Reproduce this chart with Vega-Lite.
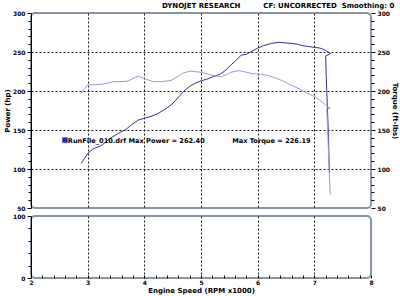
{
  "$schema": "https://vega.github.io/schema/vega-lite/v6.json",
  "background": "white",
  "padding": {"left": 2, "top": 0, "right": 0, "bottom": 1},
  "spacing": 0,
  "config": {
    "font": "DejaVu Sans",
    "view": {"stroke": "#8995a3", "strokeWidth": 2, "cornerRadius": 4},
    "axis": {
      "labelFont": "DejaVu Sans",
      "labelFontWeight": "bold",
      "labelFontSize": 6,
      "labelColor": "#000000",
      "titleFont": "DejaVu Sans",
      "titleFontWeight": "bold",
      "titleFontSize": 7,
      "titleColor": "#000000",
      "domainColor": "#000000",
      "tickColor": "#000000",
      "labelOverlap": false,
      "labelFlush": false
    }
  },
  "datasets": {
    "power": [
      {"rpm": 2.88, "hp": 107}, {"rpm": 2.95, "hp": 114}, {"rpm": 3.0, "hp": 120}, {"rpm": 3.1, "hp": 126},
      {"rpm": 3.24, "hp": 130}, {"rpm": 3.41, "hp": 140}, {"rpm": 3.55, "hp": 146}, {"rpm": 3.68, "hp": 151},
      {"rpm": 3.78, "hp": 157}, {"rpm": 3.9, "hp": 163}, {"rpm": 4.0, "hp": 165}, {"rpm": 4.1, "hp": 167},
      {"rpm": 4.24, "hp": 171}, {"rpm": 4.35, "hp": 176}, {"rpm": 4.47, "hp": 182}, {"rpm": 4.59, "hp": 191},
      {"rpm": 4.7, "hp": 200}, {"rpm": 4.8, "hp": 206}, {"rpm": 4.9, "hp": 210}, {"rpm": 5.0, "hp": 213},
      {"rpm": 5.1, "hp": 215}, {"rpm": 5.2, "hp": 218}, {"rpm": 5.35, "hp": 222}, {"rpm": 5.44, "hp": 227},
      {"rpm": 5.52, "hp": 233}, {"rpm": 5.6, "hp": 238}, {"rpm": 5.71, "hp": 246}, {"rpm": 5.8, "hp": 247},
      {"rpm": 5.9, "hp": 251}, {"rpm": 6.0, "hp": 255}, {"rpm": 6.1, "hp": 258}, {"rpm": 6.24, "hp": 261},
      {"rpm": 6.36, "hp": 262.4}, {"rpm": 6.45, "hp": 262}, {"rpm": 6.59, "hp": 261}, {"rpm": 6.7, "hp": 260},
      {"rpm": 6.8, "hp": 258}, {"rpm": 6.9, "hp": 257}, {"rpm": 7.0, "hp": 256}, {"rpm": 7.1, "hp": 255},
      {"rpm": 7.2, "hp": 252}, {"rpm": 7.29, "hp": 248}, {"rpm": 7.2, "hp": 245}, {"rpm": 7.21, "hp": 220},
      {"rpm": 7.23, "hp": 180}, {"rpm": 7.25, "hp": 140}, {"rpm": 7.26, "hp": 110}, {"rpm": 7.27, "hp": 95}
    ],
    "torque": [
      {"rpm": 2.88, "tq": 197}, {"rpm": 2.92, "tq": 201}, {"rpm": 2.97, "tq": 205}, {"rpm": 3.0, "tq": 208},
      {"rpm": 3.1, "tq": 208}, {"rpm": 3.24, "tq": 208.5}, {"rpm": 3.35, "tq": 210}, {"rpm": 3.45, "tq": 212},
      {"rpm": 3.55, "tq": 212}, {"rpm": 3.7, "tq": 212.5}, {"rpm": 3.8, "tq": 216}, {"rpm": 3.89, "tq": 219},
      {"rpm": 4.0, "tq": 216}, {"rpm": 4.15, "tq": 212}, {"rpm": 4.3, "tq": 212}, {"rpm": 4.47, "tq": 213.5},
      {"rpm": 4.58, "tq": 218}, {"rpm": 4.68, "tq": 223}, {"rpm": 4.82, "tq": 225.5}, {"rpm": 5.0, "tq": 224},
      {"rpm": 5.18, "tq": 220.5}, {"rpm": 5.35, "tq": 218}, {"rpm": 5.45, "tq": 221}, {"rpm": 5.53, "tq": 224},
      {"rpm": 5.67, "tq": 226.19}, {"rpm": 5.8, "tq": 224}, {"rpm": 5.9, "tq": 222.5}, {"rpm": 6.05, "tq": 221.5},
      {"rpm": 6.18, "tq": 220}, {"rpm": 6.3, "tq": 217}, {"rpm": 6.41, "tq": 214}, {"rpm": 6.55, "tq": 209},
      {"rpm": 6.7, "tq": 204}, {"rpm": 6.85, "tq": 198}, {"rpm": 7.0, "tq": 193}, {"rpm": 7.1, "tq": 188},
      {"rpm": 7.2, "tq": 182}, {"rpm": 7.28, "tq": 178}, {"rpm": 7.22, "tq": 177}, {"rpm": 7.24, "tq": 140},
      {"rpm": 7.26, "tq": 100}, {"rpm": 7.28, "tq": 67}
    ],
    "notes": [
      {"rpm": 2.65, "val": 136.5, "text": "RunFile_010.drf Max Power = 262.40"},
      {"rpm": 5.55, "val": 136.5, "text": "Max Torque = 226.19"}
    ],
    "marker": [
      {"rpm": 2.6, "val": 137}
    ],
    "header": [
      {"rpm": 4.31, "val": 309.5, "text": "DYNOJET RESEARCH"},
      {"rpm": 6.1, "val": 309.5, "text": "CF: UNCORRECTED\u00a0 Smoothing: 0"}
    ]
  },
  "vconcat": [
    {
      "width": 340,
      "height": 195,
      "layer": [
        {
          "data": {"name": "power"},
          "mark": {"type": "line", "color": "#34328c", "strokeWidth": 1, "clip": true},
          "encoding": {
            "x": {"field": "rpm", "type": "quantitative", "scale": {"domain": [2, 8], "nice": false},
              "axis": {"values": [3, 4, 5, 6, 7], "labels": false, "ticks": false, "domain": false, "title": null,
                "grid": true, "gridColor": "#000000", "gridDash": [2, 2], "gridWidth": 1, "gridOpacity": 0.9}},
            "y": {"field": "hp", "type": "quantitative", "scale": {"domain": [50, 300], "nice": false},
              "axis": {"orient": "left", "title": "Power (hp)", "titlePadding": 2,
                "values": [50, 60, 70, 80, 90, 100, 110, 120, 130, 140, 150, 160, 170, 180, 190, 200, 210, 220, 230, 240, 250, 260, 270, 280, 290, 300],
                "labelExpr": "datum.value % 50 == 0 ? datum.label : ''",
                "labelPadding": 2,
                "tickSize": {"condition": {"test": "datum.value % 50 == 0", "value": 4}, "value": 3},
                "grid": true, "gridColor": "#000000", "gridDash": [2, 2],
                "gridOpacity": {"condition": {"test": "datum.value % 50 == 0 && datum.value > 50 && datum.value < 300", "value": 0.9}, "value": 0}}},
            "order": {"value": null}
          }
        },
        {
          "data": {"name": "torque"},
          "mark": {"type": "line", "color": "#9d9bd3", "strokeWidth": 1, "clip": true},
          "encoding": {
            "x": {"field": "rpm", "type": "quantitative"},
            "y": {"field": "tq", "type": "quantitative", "scale": {"domain": [50, 300], "nice": false},
              "axis": {"orient": "right", "title": "Torque (ft-lbs)", "titlePadding": 2, "titleAngle": 90,
                "values": [50, 60, 70, 80, 90, 100, 110, 120, 130, 140, 150, 160, 170, 180, 190, 200, 210, 220, 230, 240, 250, 260, 270, 280, 290, 300],
                "labelExpr": "datum.value % 50 == 0 ? datum.label : ''",
                "labelPadding": 2, "domain": false,
                "tickSize": {"condition": {"test": "datum.value % 50 == 0", "value": 4}, "value": 3},
                "grid": false}},
            "order": {"value": null}
          }
        },
        {
          "data": {"name": "marker"},
          "mark": {"type": "square", "color": "#2424b8", "size": 28, "opacity": 1, "stroke": "#6a6ae0", "strokeWidth": 0.5},
          "encoding": {
            "x": {"field": "rpm", "type": "quantitative"},
            "y": {"field": "val", "type": "quantitative", "scale": {"domain": [50, 300], "nice": false}, "axis": null}
          }
        },
        {
          "data": {"name": "notes"},
          "mark": {"type": "text", "align": "left", "baseline": "middle", "font": "DejaVu Sans", "fontWeight": "bold", "fontSize": 6.6, "color": "#000000"},
          "encoding": {
            "x": {"field": "rpm", "type": "quantitative"},
            "y": {"field": "val", "type": "quantitative", "scale": {"domain": [50, 300], "nice": false}, "axis": null},
            "text": {"field": "text"}
          }
        },
        {
          "data": {"name": "header"},
          "mark": {"type": "text", "align": "left", "baseline": "middle", "font": "DejaVu Sans", "fontWeight": "bold", "fontSize": 7, "color": "#000000"},
          "encoding": {
            "x": {"field": "rpm", "type": "quantitative"},
            "y": {"field": "val", "type": "quantitative", "scale": {"domain": [50, 300], "nice": false}, "axis": null},
            "text": {"field": "text"}
          }
        }
      ],
      "resolve": {"scale": {"y": "independent"}}
    },
    {
      "width": 340,
      "height": 62,
      "data": {"name": "power"},
      "mark": {"type": "point", "opacity": 0},
      "encoding": {
        "x": {"field": "rpm", "type": "quantitative", "scale": {"domain": [2, 8], "nice": false},
          "axis": {"title": "Engine Speed (RPM x1000)", "titlePadding": 1,
            "values": [2, 2.2, 2.4, 2.6, 2.8, 3, 3.2, 3.4, 3.6, 3.8, 4, 4.2, 4.4, 4.6, 4.8, 5, 5.2, 5.4, 5.6, 5.8, 6, 6.2, 6.4, 6.6, 6.8, 7, 7.2, 7.4, 7.6, 7.8, 8],
            "labelExpr": "datum.value % 1 == 0 ? format(datum.value, 'd') : ''",
            "labelPadding": 4, "domain": false,
            "tickSize": -3,
            "grid": true, "gridColor": "#000000", "gridDash": [2, 2],
            "gridOpacity": {"condition": {"test": "datum.value % 1 == 0 && datum.value > 2 && datum.value < 8", "value": 0.9}, "value": 0}}},
        "y": {"datum": 0, "type": "quantitative", "scale": {"domain": [0, 100], "nice": false},
          "axis": {"title": null, "values": [0, 20, 40, 60, 80, 100],
            "labelExpr": "datum.value % 100 == 0 ? datum.label : ''",
            "labelPadding": 2,
            "tickSize": {"condition": {"test": "datum.value % 100 == 0", "value": 4}, "value": 3},
            "grid": false}}
      }
    }
  ]
}
